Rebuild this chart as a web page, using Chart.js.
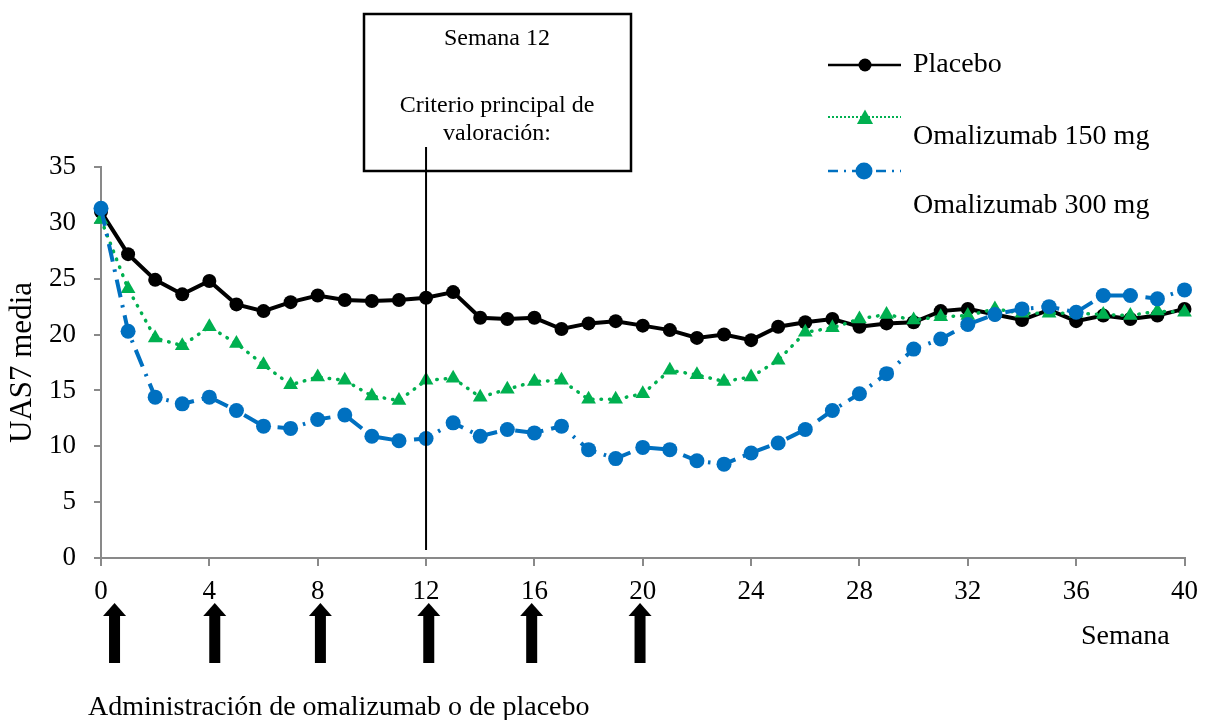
<!DOCTYPE html>
<html>
<head>
<meta charset="utf-8">
<script src="https://cdn.jsdelivr.net/npm/chart.js@4.4.1/dist/chart.umd.min.js"></script>
<style>
  body { margin: 0; background: #fff; }
</style>
</head>
<body>
<canvas id="grafico" width="1208" height="720"></canvas>
<script>
const semanas = [0, 1, 2, 3, 4, 5, 6, 7, 8, 9, 10, 11, 12, 13, 14, 15, 16, 17, 18, 19, 20,
  21, 22, 23, 24, 25, 26, 27, 28, 29, 30, 31, 32, 33, 34, 35, 36, 37, 38, 39, 40];

const placebo = [31.0, 27.2, 24.9, 23.6, 24.8, 22.7, 22.1, 22.9, 23.5, 23.1, 23.0, 23.1, 23.3, 23.8,
  21.5, 21.4, 21.5, 20.5, 21.0, 21.2, 20.8, 20.4, 19.7, 20.0, 19.5, 20.7, 21.1, 21.4, 20.7, 21.0,
  21.1, 22.1, 22.3, 21.8, 21.3, 22.2, 21.2, 21.7, 21.4, 21.7, 22.3];

const omalizumab150 = [30.3, 24.1, 19.7, 19.0, 20.7, 19.2, 17.3, 15.5, 16.2, 15.9, 14.5, 14.1, 15.9, 16.1,
  14.4, 15.1, 15.8, 15.9, 14.2, 14.2, 14.7, 16.8, 16.4, 15.8, 16.2, 17.7, 20.2, 20.6, 21.4, 21.8,
  21.3, 21.6, 21.7, 22.3, 21.9, 21.9, 21.9, 21.8, 21.7, 22.1, 22.0];

const omalizumab300 = [31.3, 20.3, 14.4, 13.8, 14.4, 13.2, 11.8, 11.6, 12.4, 12.8, 10.9, 10.5, 10.7, 12.1,
  10.9, 11.5, 11.2, 11.8, 9.7, 8.9, 9.9, 9.7, 8.7, 8.4, 9.4, 10.3, 11.5, 13.2, 14.7, 16.5,
  18.7, 19.6, 20.9, 21.8, 22.3, 22.5, 22.0, 23.5, 23.5, 23.2, 24.0];

const semanaCriterio = 12;
const flechas = [0.5, 4.2, 8.1, 12.1, 15.9, 19.9];

const serif = "'Liberation Serif', 'Times New Roman', serif";
const gris = "#898989";
const verde = "#00B050";
const azul = "#0070C0";

function puntos(valores) {
  return valores.map((v, i) => ({ x: semanas[i], y: v }));
}

function triangulo(ctx, x, y, r) {
  ctx.beginPath();
  ctx.moveTo(x, y - r);
  ctx.lineTo(x + r * 0.95, y + r * 0.7);
  ctx.lineTo(x - r * 0.95, y + r * 0.7);
  ctx.closePath();
  ctx.fill();
}

const anotaciones = {
  id: "anotaciones",
  afterDraw(chart) {
    const { ctx, scales: { x } } = chart;
    ctx.save();

    // recuadro
    ctx.strokeStyle = "#000";
    ctx.lineWidth = 2.5;
    ctx.strokeRect(364, 14, 267, 157);
    ctx.fillStyle = "#000";
    ctx.textAlign = "center";
    ctx.textBaseline = "middle";
    ctx.font = "24px " + serif;
    ctx.fillText("Semana 12", 497, 39);
    ctx.fillText("Criterio principal de", 497, 106);
    ctx.fillText("valoración:", 497, 134);

    // linea semana 12
    const lx = x.getPixelForValue(semanaCriterio);
    ctx.lineWidth = 2;
    ctx.beginPath();
    ctx.moveTo(lx, 147);
    ctx.lineTo(lx, 550);
    ctx.stroke();

    // leyenda
    ctx.textAlign = "left";
    ctx.font = "28px " + serif;

    ctx.strokeStyle = "#000";
    ctx.lineWidth = 2.5;
    ctx.setLineDash([]);
    ctx.beginPath(); ctx.moveTo(828, 65); ctx.lineTo(901, 65); ctx.stroke();
    ctx.beginPath(); ctx.arc(865, 65, 6.5, 0, Math.PI * 2); ctx.fill();
    ctx.fillText("Placebo", 913, 65);

    ctx.strokeStyle = verde;
    ctx.lineWidth = 2;
    ctx.setLineDash([2, 2]);
    ctx.beginPath(); ctx.moveTo(828, 117); ctx.lineTo(901, 117); ctx.stroke();
    ctx.fillStyle = verde;
    triangulo(ctx, 865, 118, 8.5);
    ctx.fillStyle = "#000";
    ctx.fillText("Omalizumab 150 mg", 913, 137);

    ctx.strokeStyle = azul;
    ctx.lineWidth = 2.5;
    ctx.setLineDash([10, 6, 2, 6]);
    ctx.beginPath(); ctx.moveTo(828, 171); ctx.lineTo(901, 171); ctx.stroke();
    ctx.setLineDash([]);
    ctx.fillStyle = azul;
    ctx.beginPath(); ctx.arc(864, 171, 8.5, 0, Math.PI * 2); ctx.fill();
    ctx.fillStyle = "#000";
    ctx.fillText("Omalizumab 300 mg", 913, 206);

    // flechas de administracion
    flechas.forEach(s => {
      const fx = x.getPixelForValue(s);
      ctx.fillRect(fx - 5.5, 614, 11, 49);
      ctx.beginPath();
      ctx.moveTo(fx, 603);
      ctx.lineTo(fx + 11.5, 616);
      ctx.lineTo(fx - 11.5, 616);
      ctx.closePath();
      ctx.fill();
    });

    ctx.font = "28px " + serif;
    ctx.fillText("Semana", 1081, 637);
    ctx.fillText("Administración de omalizumab o de placebo", 88, 708);
    ctx.restore();
  }
};

new Chart(document.getElementById("grafico"), {
  type: "line",
  data: {
    datasets: [
      {
        label: "Placebo",
        data: puntos(placebo),
        borderColor: "#000",
        backgroundColor: "#000",
        borderWidth: 4,
        pointRadius: 7,
        pointStyle: "circle",
        pointBorderWidth: 0,
        tension: 0,
        clip: false,
        order: 2
      },
      {
        label: "Omalizumab 150 mg",
        data: puntos(omalizumab150),
        borderColor: verde,
        backgroundColor: verde,
        borderWidth: 3.5,
        borderDash: [0.5, 8],
        borderCapStyle: "round",
        pointRadius: 8.5,
        pointStyle: "triangle",
        pointBorderWidth: 0,
        tension: 0,
        clip: false,
        order: 1
      },
      {
        label: "Omalizumab 300 mg",
        data: puntos(omalizumab300),
        borderColor: azul,
        backgroundColor: azul,
        borderWidth: 4,
        borderDash: [18, 8, 2.5, 8],
        pointRadius: 7.5,
        pointStyle: "circle",
        pointBorderWidth: 0,
        tension: 0,
        clip: false,
        order: 0
      }
    ]
  },
  options: {
    responsive: false,
    animation: false,
    layout: { padding: { top: 167, right: 19, left: 0, bottom: 0 } },
    plugins: {
      legend: { display: false },
      tooltip: { enabled: false }
    },
    scales: {
      x: {
        type: "linear",
        min: 0,
        max: 40,
        ticks: { stepSize: 4, color: "#000", font: { family: serif, size: 27 }, padding: 10, maxRotation: 0 },
        grid: { drawOnChartArea: false, tickLength: 8, color: gris, lineWidth: 2 },
        border: { color: gris, width: 2 },
        afterFit(s) { s.height = 162; }
      },
      y: {
        min: 0,
        max: 35,
        ticks: { stepSize: 5, color: "#000", font: { family: serif, size: 27 }, padding: 18 },
        grid: { drawOnChartArea: false, tickLength: 7, color: gris, lineWidth: 2 },
        border: { color: gris, width: 2 },
        title: { display: true, text: "UAS7 media", color: "#000", font: { family: serif, size: 31 } },
        afterFit(s) { s.width = 101; }
      }
    }
  },
  plugins: [anotaciones]
});
</script>
</body>
</html>
